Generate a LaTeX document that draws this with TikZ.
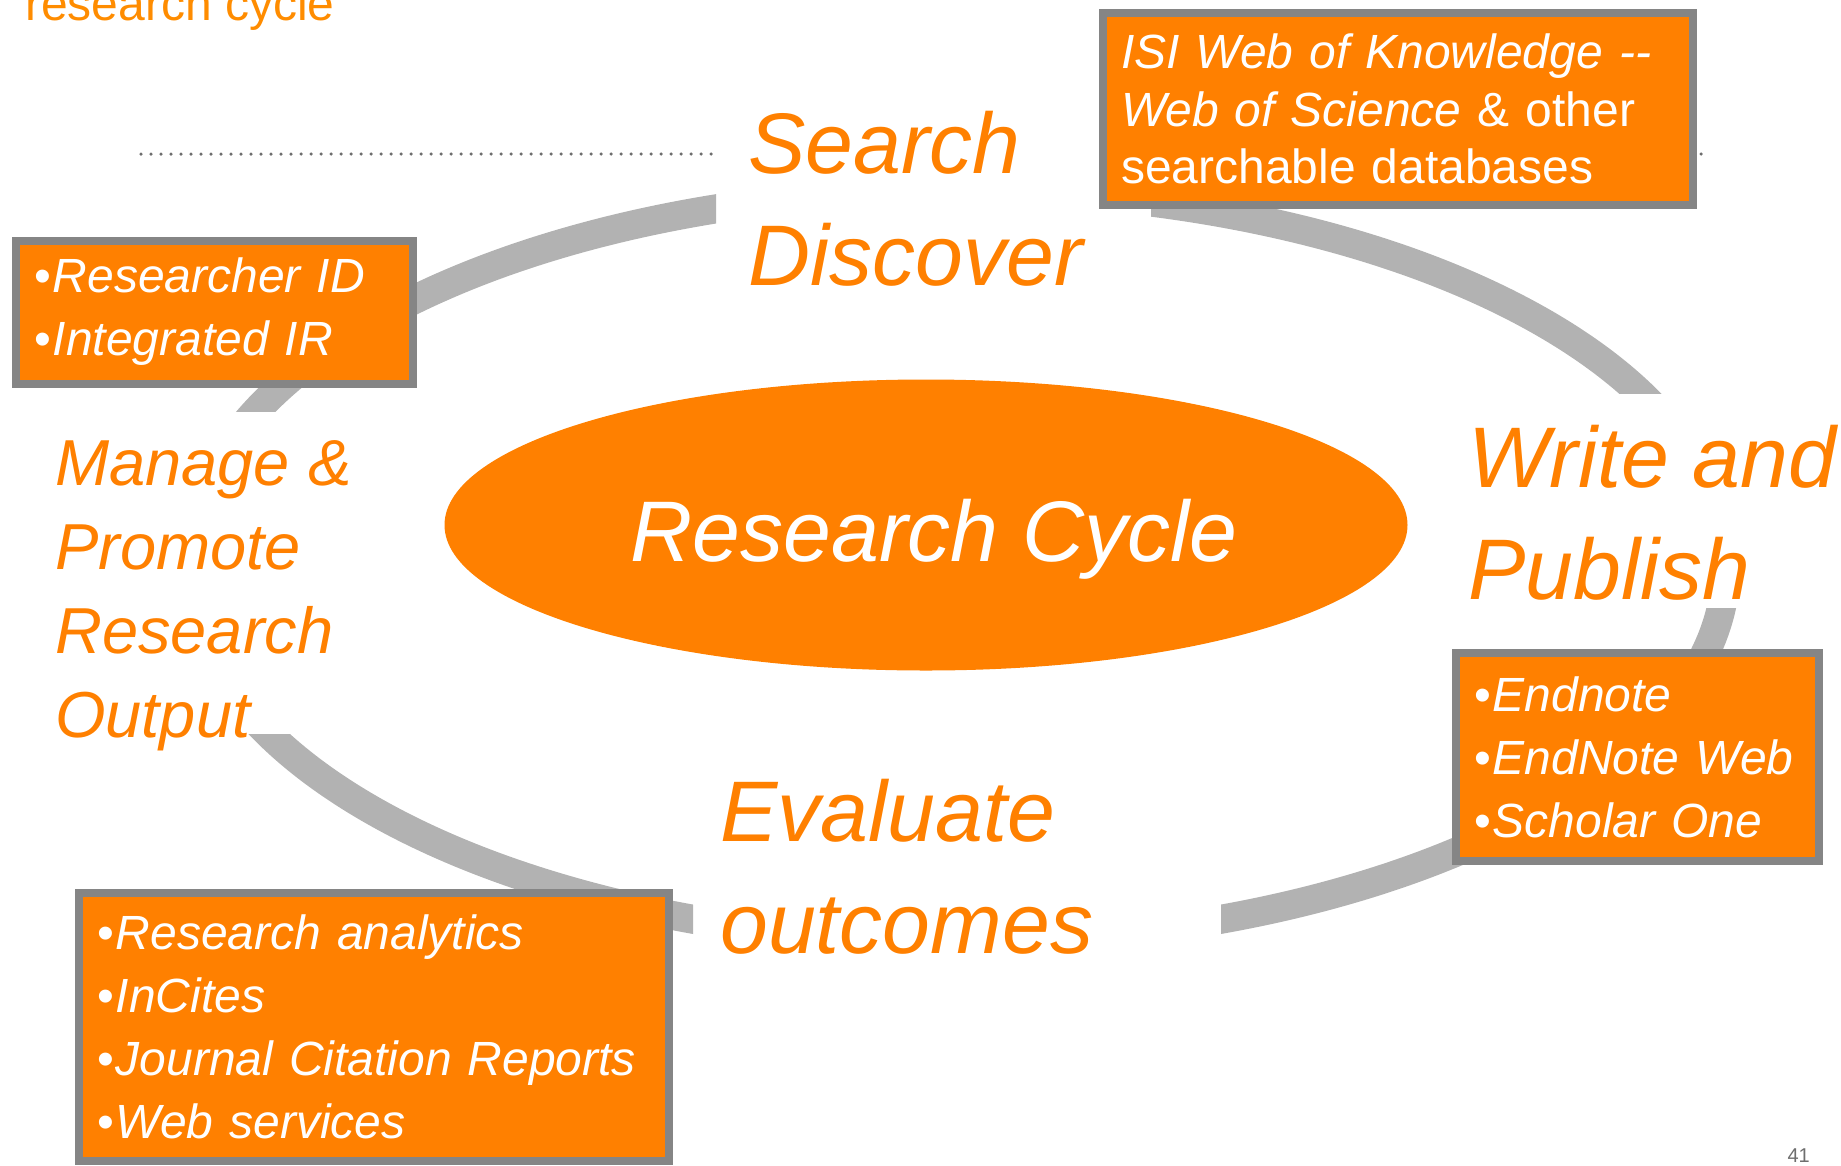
\documentclass[tikz,border=0pt]{standalone}
\usepackage{fontspec}
\setmainfont{Liberation Sans}
\usetikzlibrary{shapes.geometric, positioning}
\definecolor{cycorange}{HTML}{FF8000}
\definecolor{titleorange}{HTML}{FF8C00}
\definecolor{ringgray}{HTML}{B2B2B2}
\definecolor{framegray}{HTML}{858585}
\definecolor{dotgray}{HTML}{6E6E6E}
\newcommand{\itm}[1]{\textbullet\hspace{2pt}\textit{#1}}

\begin{document}
\begin{tikzpicture}[x=1pt, y=-1pt,
    phase/.style={text=cycorange, font=\itshape\fontsize{86}{112}\selectfont, align=left, inner sep=0pt, anchor=base west},
    toolbox/.style={draw=framegray, line width=8pt, fill=cycorange, text=white, align=left, inner xsep=18pt, inner ysep=0pt, font=\fontsize{48}{63}\selectfont}]
\useasboundingbox (0,0) rectangle (1841,1165);

% title, cut at the top of the slide
\node (title) [text=titleorange, font=\fontsize{48}{58}\selectfont, inner sep=0pt, anchor=base west] at (25,20) {research cycle};

% ring and dotted rule, shown only outside the labels
\coordinate (rulestart) at (141,154);
\coordinate (ruleend) at (1706,154);
\foreach \xa/\ya/\xb/\yb in {0/0/716/411, 1151/0/1841/393, 1221/608/1841/1165, 0/734/693/1165} {
  \begin{scope}
    \clip (\xa,\ya) rectangle (\xb,\yb);
    \draw[ringgray, line width=29pt] (957,566) ellipse [x radius=769pt, y radius=376pt];
    \draw[dotgray, line width=3.5pt, line cap=round, dash pattern=on 0pt off 10pt] (rulestart) -- (ruleend);
  \end{scope}
}

% centre
\node (hub) [ellipse, fill=cycorange, minimum width=963pt, minimum height=291pt, inner sep=0pt] at (926,525) {};
\node (hubtext) [text=white, font=\itshape\fontsize{86}{100}\selectfont, inner sep=0pt, anchor=base] at (934,561) {Research Cycle};

% stages (base = last line)
\node (search) [phase] at (748,285) {Search\\Discover};
\node (write) [phase] at (1468,599) {Write and\\Publish};
\node (evaluate) [phase] at (720,953) {Evaluate\\outcomes};
\node (manage) [phase, font=\itshape\fontsize{65}{84}\selectfont] at (55,737) {Manage \&\\Promote\\Research\\Output};

% tools
\node (isi) [toolbox, font=\fontsize{48}{57.5}\selectfont, text width=554pt, minimum height=192pt] at (1398,109)
  {\textit{ISI Web of Knowledge -{}-}\\\textit{Web of Science} \& other\\searchable databases};
\node (rid) [toolbox, text width=361pt, minimum height=143pt] at (214.5,312)
  {\itm{Researcher ID}\\\itm{Integrated IR}};
\node (endnote) [toolbox, text width=327pt, minimum height=208pt] at (1637.5,757)
  {\itm{Endnote}\\\itm{EndNote Web}\\\itm{Scholar One}};
\node (analytics) [toolbox, text width=554pt, minimum height=268pt] at (374,1027)
  {\itm{Research analytics}\\\itm{InCites}\\\itm{Journal Citation Reports}\\\itm{Web services}};

% page number
\node (page) [text=dotgray, font=\fontsize{20}{24}\selectfont, inner sep=0pt, anchor=base east] at (1810,1162) {41};
\end{tikzpicture}
\end{document}
